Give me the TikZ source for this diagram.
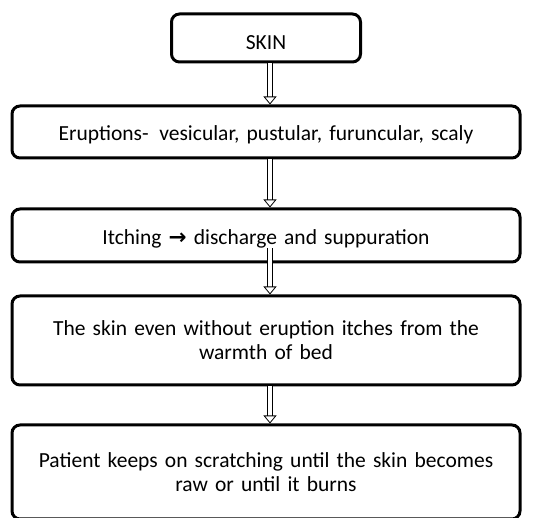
\documentclass[tikz,border=0pt]{standalone}
\usepackage{fontspec}
\setmainfont{Carlito}
\newfontfamily\symbolfont{DejaVu Sans}
\usetikzlibrary{arrows.meta}
\tikzstyle{topbox} = [rectangle, draw, line width=3pt, rounded corners=8pt, minimum width=189pt, minimum height=48pt, text height=23pt, text depth=0pt, font=\fontsize{21.5}{24}\selectfont]
\tikzstyle{stepbox} = [rectangle, draw, line width=3pt, rounded corners=8pt, minimum width=508pt, text width=496pt, align=center, inner sep=0pt, font=\fontsize{21.5}{24}\selectfont]
\tikzstyle{arrow} = [double, double distance=4pt, line width=0.8pt, -{Triangle[open, width=13pt, length=8pt]}]

\begin{document}
\begin{tikzpicture}
    \useasboundingbox (0,0) rectangle (552pt,-518pt);

        % nodes
        \node (skin) [topbox] at (266pt,-38pt) {SKIN};
        \node (eruptions) [stepbox, minimum height=52pt, text height=19pt, text depth=1pt, below of=skin, node distance=94pt] {Eruptions-\enspace vesicular, pustular, furuncular, scaly};
        \node (itching) [stepbox, minimum height=53pt, text height=19pt, text depth=1pt, below of=eruptions, node distance=103.5pt] {Itching {\symbolfont\bfseries →} discharge and suppuration};
        \node (warmth) [stepbox, minimum height=89pt, below of=itching, node distance=105pt] {The skin even without eruption itches from the\\warmth of bed};
        \node (scratching) [stepbox, minimum height=94pt, below of=warmth, node distance=131.5pt] {Patient keeps on scratching until the skin becomes\\raw or until it burns};

        % edges
        \draw [arrow] ([xshift=4pt]skin.south) -- ([xshift=4pt]eruptions.north);
        \draw [arrow] ([xshift=4pt]eruptions.south) -- ([xshift=4pt]itching.north);
        \draw [arrow] ([xshift=4pt, yshift=15pt]itching.south) -- ([xshift=4pt]warmth.north);
        \draw [arrow] ([xshift=4pt]warmth.south) -- ([xshift=4pt]scratching.north);

\end{tikzpicture}
\end{document}
